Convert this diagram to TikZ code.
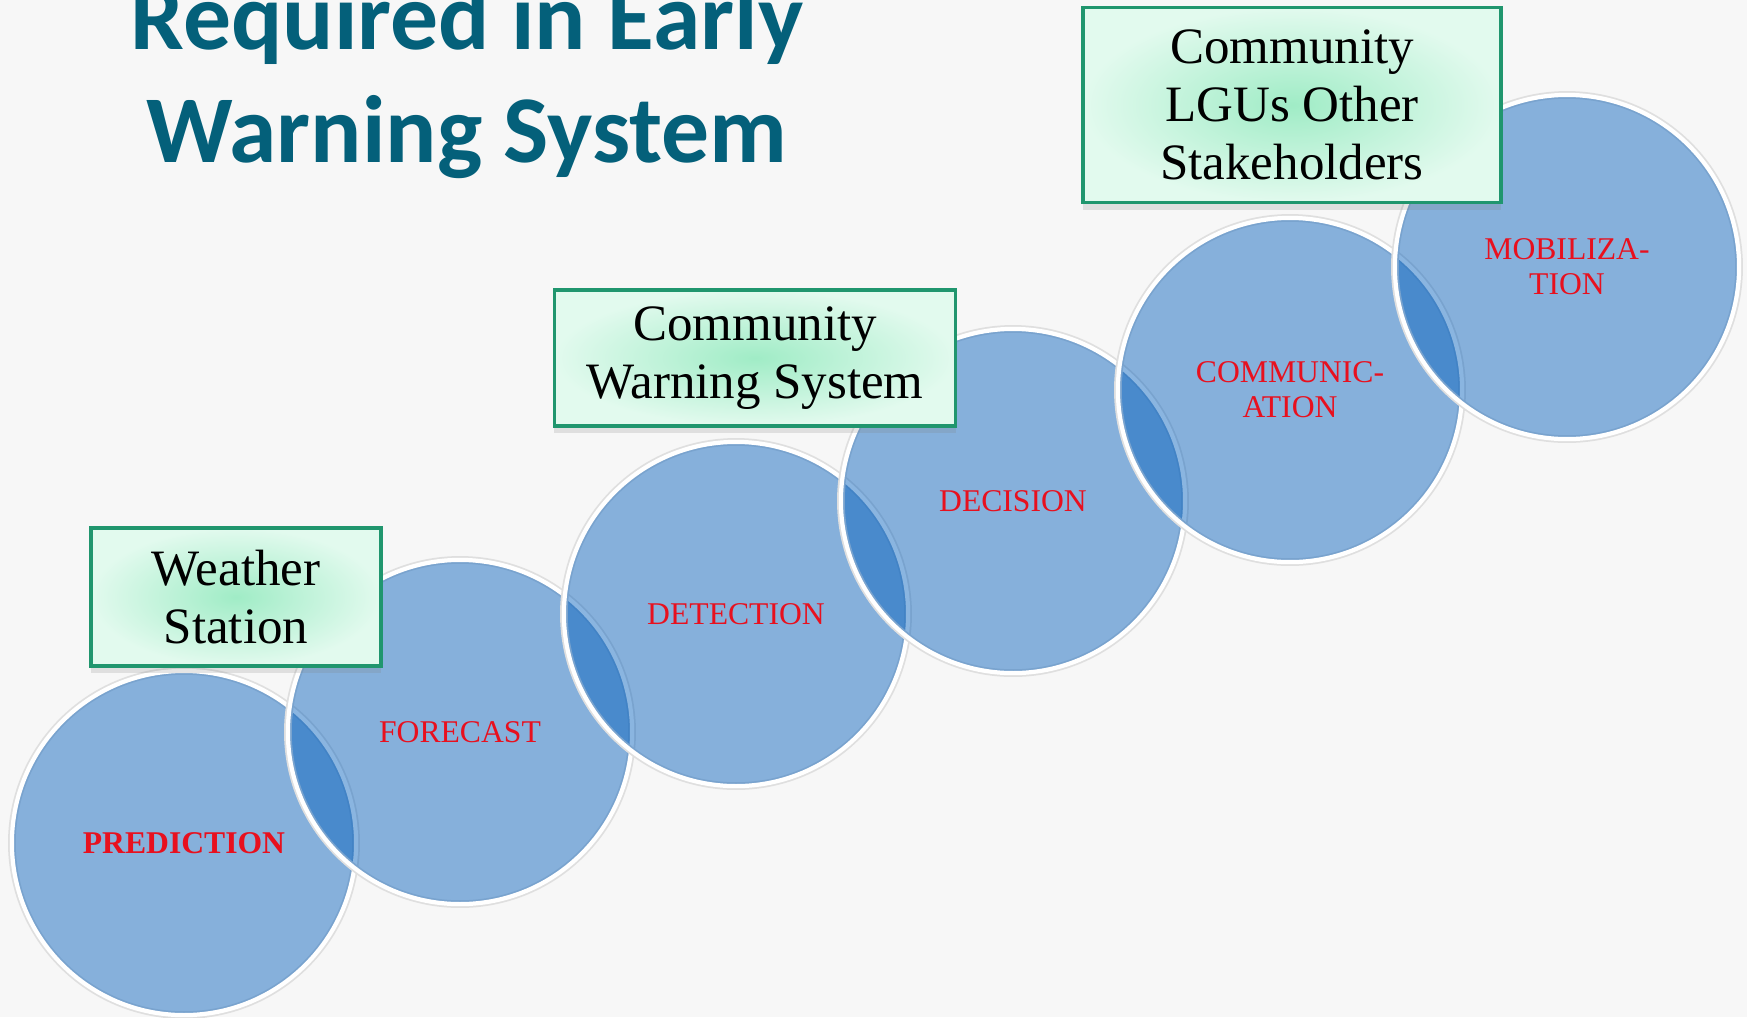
\documentclass[tikz,border=0pt]{standalone}
\usepackage{fontspec}
\setmainfont{Liberation Serif}
\newfontfamily\titlefont{Carlito}
\usepackage{tikz}
\usetikzlibrary{positioning,calc,shadows}
\definecolor{stepblue}{RGB}{2,94,188}
\definecolor{labelred}{RGB}{232,16,30}
\definecolor{boxgreen}{RGB}{32,150,110}
\definecolor{mintlight}{RGB}{226,250,238}
\definecolor{mintmid}{RGB}{160,236,198}
\definecolor{titleteal}{RGB}{4,96,122}
\definecolor{pagegray}{RGB}{247,247,247}
\tikzset{
    every node/.style={font=\fontsize{9}{10}\selectfont},
    bluecircle/.style={circle, minimum size=3.44cm, inner sep=0pt, fill=stepblue, fill opacity=0.46, text opacity=1,
        draw=white, line width=1.2pt, preaction={draw=gray!25, line width=2.2pt}, text=labelred, align=center},
    rectgreen/.style={draw=boxgreen, line width=1pt, inner color=mintmid, outer color=mintlight,
        drop shadow={shadow xshift=0mm, shadow yshift=-0.7mm, opacity=0.2}, align=center,
        font=\fontsize{14.5}{16.5}\selectfont, inner sep=0pt},
    titletext/.style={font=\titlefont\bfseries\fontsize{27.2}{32}\selectfont, text=titleteal, align=center},
}
\begin{document}
\begin{tikzpicture}[x=0.01cm, y=-0.01cm]
\fill[pagegray] (0,0) rectangle (1747,1017);
\useasboundingbox (0,0) rectangle (1747,1017);
% title, its first line runs off the top
\node[titletext, anchor=base] (title) at (467,162) {Required in Early\\Warning System};
% the steps, each one a little higher than the one before
\node[bluecircle] (prediction) at (184,843) {\bfseries PREDICTION};
\node[bluecircle] (forecast) at (460,732) {FORECAST};
\node[bluecircle] (detection) at (736,614) {DETECTION};
\node[bluecircle] (decision) at (1013,501) {DECISION};
\node[bluecircle] (communication) at (1290,390) {COMMUNIC-\\ATION};
\node[bluecircle] (mobilization) at (1567,267) {MOBILIZA-\\TION};
% who is in charge
\node[rectgreen, minimum width=2.90cm, minimum height=1.38cm] (weather) at (236,597) {Weather\\Station};
\node[rectgreen, minimum width=4.01cm, minimum height=1.36cm] (cws) at (755,358) {Community\\Warning System};
\node[rectgreen, minimum width=4.18cm, minimum height=1.95cm] (lgus) at (1292,105) {Community\\LGUs Other\\Stakeholders};
\end{tikzpicture}
\end{document}
